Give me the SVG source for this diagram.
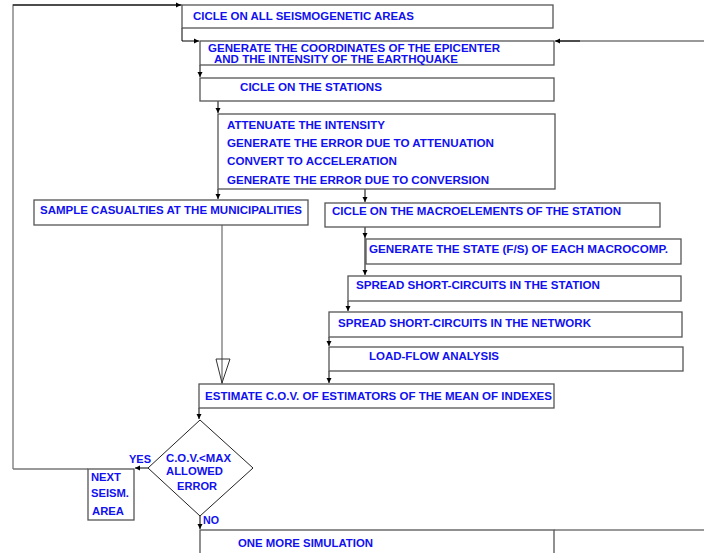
<svg xmlns="http://www.w3.org/2000/svg" width="704" height="553" viewBox="0 0 704 553">
<style>
.box{fill:#fff;stroke:#555;stroke-width:1.3}
.t{font-family:"Liberation Sans",Arial,sans-serif;font-weight:bold;font-size:10.6px;fill:#1010f0}
.c{fill:none;stroke:#000;stroke-width:1}
.g{fill:none;stroke:#777;stroke-width:1.3}
</style>
<defs>
<marker id="ah" markerWidth="6" markerHeight="6" refX="5" refY="3" orient="auto" markerUnits="userSpaceOnUse">
<path d="M0,0.5 L5,3 L0,5.5 Z" fill="#000"/>
</marker>
</defs>
<rect width="704" height="553" fill="#fff"/>
<g id="connectors">
<path class="g" d="M182,5 L13,5 L13,469"/>
<path class="c" d="M13,5 L181,5" marker-end="url(#ah)"/>
<path class="g" d="M13,469 L88,469"/>
<path class="c" d="M182,28 L182,41 L199,41" marker-end="url(#ah)"/>
<path class="g" d="M704,41 L556,41"/>
<path class="c" d="M580,41 L555,41" marker-end="url(#ah)"/>
<path class="c" d="M200,65 L200,77" marker-end="url(#ah)"/>
<path class="c" d="M218,101 L218,113" marker-end="url(#ah)"/>
<path class="c" d="M218,189 L218,199" marker-end="url(#ah)"/>
<path class="c" d="M365,189 L365,202" marker-end="url(#ah)"/>
<path class="c" d="M365,227 L365,238" marker-end="url(#ah)"/>
<path class="c" d="M365,238 L365,275" marker-end="url(#ah)"/>
<path class="c" d="M348,301 L348,311" marker-end="url(#ah)"/>
<path class="c" d="M329,337 L329,346" marker-end="url(#ah)"/>
<path class="c" d="M329,371 L329,383" marker-end="url(#ah)"/>
<path class="g" d="M222,225 L222,384"/>
<path d="M216,359 L230,359 L222,383 Z" fill="none" stroke="#333" stroke-width="1"/>
<path class="c" d="M199,408 L199,419" marker-end="url(#ah)"/>
<path class="c" d="M148,468 L135,468" marker-end="url(#ah)"/>
<path class="c" d="M200,516 L200,529" marker-end="url(#ah)"/>
<path class="g" d="M554,530 L704,530"/>
<text class="t" x="129" y="463" textLength="22" lengthAdjust="spacingAndGlyphs">YES</text>
<text class="t" x="203" y="524" textLength="16" lengthAdjust="spacingAndGlyphs">NO</text>
</g>
<g id="n1">
<rect class="box" x="182" y="5" width="371" height="23"/>
<text class="t" x="193" y="20" textLength="221" lengthAdjust="spacingAndGlyphs">CICLE ON ALL SEISMOGENETIC AREAS</text>
</g>
<g id="n2">
<rect class="box" x="200" y="41" width="354" height="24"/>
<text class="t" x="208" y="52" font-size="9.4" textLength="292" lengthAdjust="spacingAndGlyphs">GENERATE THE COORDINATES OF THE EPICENTER</text>
<text class="t" x="214" y="63" font-size="9.4" textLength="244" lengthAdjust="spacingAndGlyphs">AND THE INTENSITY OF THE EARTHQUAKE</text>
</g>
<g id="n3">
<rect class="box" x="200" y="78" width="354" height="23"/>
<text class="t" x="240" y="91" textLength="142" lengthAdjust="spacingAndGlyphs">CICLE ON THE STATIONS</text>
</g>
<g id="n4">
<rect class="box" x="218" y="114" width="337" height="75"/>
<text class="t" x="227" y="129" textLength="158" lengthAdjust="spacingAndGlyphs">ATTENUATE THE INTENSITY</text>
<text class="t" x="227" y="147" textLength="267" lengthAdjust="spacingAndGlyphs">GENERATE THE ERROR DUE TO ATTENUATION</text>
<text class="t" x="227" y="165" textLength="170" lengthAdjust="spacingAndGlyphs">CONVERT TO ACCELERATION</text>
<text class="t" x="227" y="184" textLength="262" lengthAdjust="spacingAndGlyphs">GENERATE THE ERROR DUE TO CONVERSION</text>
</g>
<g id="n5">
<rect class="box" x="34" y="200" width="274" height="25"/>
<text class="t" x="40" y="214" textLength="262" lengthAdjust="spacingAndGlyphs">SAMPLE CASUALTIES AT THE MUNICIPALITIES</text>
</g>
<g id="n6">
<rect class="box" x="325" y="203" width="335" height="24"/>
<text class="t" x="332" y="215" textLength="289" lengthAdjust="spacingAndGlyphs">CICLE ON THE MACROELEMENTS OF THE STATION</text>
</g>
<g id="n7">
<rect class="box" x="366" y="239" width="315" height="25"/>
<text class="t" x="369" y="253" textLength="299" lengthAdjust="spacingAndGlyphs">GENERATE THE STATE (F/S) OF EACH MACROCOMP.</text>
</g>
<g id="n8">
<rect class="box" x="348" y="276" width="333" height="25"/>
<text class="t" x="356" y="289" textLength="244" lengthAdjust="spacingAndGlyphs">SPREAD SHORT-CIRCUITS IN THE STATION</text>
</g>
<g id="n9">
<rect class="box" x="329" y="312" width="353" height="25"/>
<text class="t" x="338" y="327" textLength="253" lengthAdjust="spacingAndGlyphs">SPREAD SHORT-CIRCUITS IN THE NETWORK</text>
</g>
<g id="n10">
<rect class="box" x="329" y="347" width="354" height="24"/>
<text class="t" x="369" y="360" textLength="130" lengthAdjust="spacingAndGlyphs">LOAD-FLOW ANALYSIS</text>
</g>
<g id="n11">
<rect class="box" x="199" y="384" width="355" height="24"/>
<text class="t" x="205" y="400" textLength="347" lengthAdjust="spacingAndGlyphs">ESTIMATE C.O.V. OF ESTIMATORS OF THE MEAN OF INDEXES</text>
</g>
<g id="n12">
<path d="M200,420 L253,468 L200,516 L148,468 Z" fill="#fff" stroke="#222" stroke-width="1"/>
<text class="t" x="166" y="462" textLength="65" lengthAdjust="spacingAndGlyphs">C.O.V.&lt;MAX</text>
<text class="t" x="166" y="475" textLength="57" lengthAdjust="spacingAndGlyphs">ALLOWED</text>
<text class="t" x="177" y="490" textLength="40" lengthAdjust="spacingAndGlyphs">ERROR</text>
</g>
<g id="n13">
<rect class="box" x="88" y="469" width="46" height="51"/>
<text class="t" x="91" y="481" textLength="30" lengthAdjust="spacingAndGlyphs">NEXT</text>
<text class="t" x="91" y="497" textLength="38" lengthAdjust="spacingAndGlyphs">SEISM.</text>
<text class="t" x="92" y="515" textLength="32" lengthAdjust="spacingAndGlyphs">AREA</text>
</g>
<g id="n14">
<rect class="box" x="200" y="530" width="354" height="30"/>
<text class="t" x="238" y="547" textLength="135" lengthAdjust="spacingAndGlyphs">ONE MORE SIMULATION</text>
</g>
</svg>
